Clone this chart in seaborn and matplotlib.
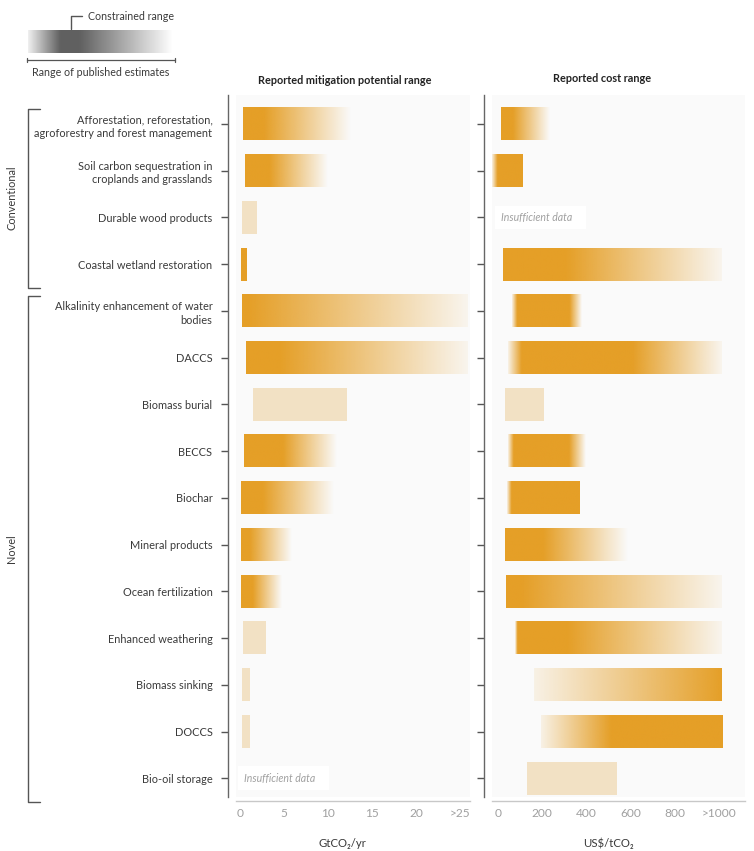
import numpy as np
import matplotlib.pyplot as plt
from matplotlib.lines import Line2D
from matplotlib.transforms import blended_transform_factory
import seaborn as sns

nan = np.nan

# ---------------- data ----------------
methods = [
    "Afforestation, reforestation,\nagroforestry and forest management",
    "Soil carbon sequestration in\ncroplands and grasslands",
    "Durable wood products",
    "Coastal wetland restoration",
    "Alkalinity enhancement of water\nbodies",
    "DACCS",
    "Biomass burial",
    "BECCS",
    "Biochar",
    "Mineral products",
    "Ocean fertilization",
    "Enhanced weathering",
    "Biomass sinking",
    "DOCCS",
    "Bio-oil storage",
]
groups = ["Conventional", "Novel"]
group_sizes = [4, 11]

# mitigation potential (GtCO2/yr): published range lo..hi, constrained range clo..chi
# nan constrained range -> only a low-confidence range is reported (pale bar)
pot_lo = [0.3, 0.6, 0.2, 0.1, 0.2, 0.65, 1.5, 0.45, 0.1, 0.1, 0.15, 0.35, 0.2, 0.2, nan]
pot_clo = [0.3, 0.6, nan, 0.1, 0.2, 0.65, nan, 0.45, 0.1, 0.1, 0.15, nan, nan, nan, nan]
pot_chi = [2.7, 3.4, nan, 0.7, 1.0, 4.5, nan, 4.9, 2.6, 1.1, 1.5, nan, nan, nan, nan]
pot_hi = [12.5, 10.0, 1.8, 0.7, 25.8, 25.8, 12.1, 11.0, 10.6, 5.8, 4.8, 2.9, 1.0, 1.0, nan]

# cost (US$/tCO2)
cost_lo = [15, -25, nan, 23, 62, 45, 32, 45, 40, 30, 35, 75, 165, 195, 130]
cost_clo = [15, 0, nan, 23, 85, 105, nan, 70, 60, 30, 35, 85, 1015, 510, nan]
cost_chi = [70, 115, nan, 310, 320, 610, nan, 320, 370, 205, 110, 315, 1015, 1015, nan]
cost_hi = [235, 115, nan, 1010, 375, 1010, 204, 395, 370, 585, 1010, 1010, 1015, 1015, 535]

pot_ticks = [0, 5, 10, 15, 20, 25]
pot_ticklabels = ["0", "5", "10", "15", "20", ">25"]
cost_ticks = [0, 200, 400, 600, 800, 1000]
cost_ticklabels = ["0", "200", "400", "600", "800", ">1000"]

# ---------------- style ----------------
sns.set_theme(style="white")
plt.rcParams["font.family"] = ["Lato", "DejaVu Sans"]

ORANGE = np.array([229, 159, 39]) / 255
PALE_RGB = np.array([234, 196, 130]) / 255
PALE = 0.45
START = 0.1
BAR_H = 0.7
PANEL_BG = "#fafafa"
TEXT = "#3a3a3a"
GREY = "#a0a0a0"
FS = 7.95

W, H = 754, 851
fig = plt.figure(figsize=(W / 100, H / 100), dpi=100)
ax_pot = fig.add_axes([236 / W, 1 - 797 / H, 234 / W, 702 / H])
ax_cost = fig.add_axes([492 / W, 1 - 797 / H, 253 / W, 702 / H])


def draw_ranges(ax, lo, clo, chi, hi, cap):
    for i in range(len(methods)):
        if np.isnan(lo[i]):
            tr = blended_transform_factory(ax.transAxes, ax.transData)
            ax.text(0.035, i, "Insufficient data   ", transform=tr, ha="left",
                    va="center", fontsize=7.6, style="italic", color=GREY,
                    bbox=dict(boxstyle="square,pad=0.6", fc="white", ec="none"),
                    zorder=3)
            continue
        x = np.linspace(lo[i], hi[i], 400)
        rgb = ORANGE
        if np.isnan(clo[i]):
            alpha = np.full_like(x, PALE)
            rgb = PALE_RGB
        else:
            alpha = np.ones_like(x)
            if clo[i] > lo[i]:
                m = x < clo[i]
                alpha[m] = START + (1 - START) * (x[m] - lo[i]) / (clo[i] - lo[i])
            if hi[i] > chi[i]:
                tail = 0.06 if hi[i] >= cap else 0.0
                m = x > chi[i]
                alpha[m] = 1 - (1 - tail) * (x[m] - chi[i]) / (hi[i] - chi[i])
        rgba = np.zeros((1, x.size, 4))
        rgba[..., :3] = rgb
        rgba[..., 3] = alpha
        ax.imshow(rgba, extent=(lo[i], hi[i], i + BAR_H / 2, i - BAR_H / 2),
                  aspect="auto", interpolation="bilinear", zorder=2)


draw_ranges(ax_pot, pot_lo, pot_clo, pot_chi, pot_hi, 25)
draw_ranges(ax_cost, cost_lo, cost_clo, cost_chi, cost_hi, 1000)

n = len(methods)
for ax, ticks, labels, xlim in [
    (ax_pot, pot_ticks, pot_ticklabels, (-0.45, 26.15)),
    (ax_cost, cost_ticks, cost_ticklabels, (-27, 1118)),
]:
    ax.set_facecolor(PANEL_BG)
    ax.set_xlim(*xlim)
    ax.set_ylim(n - 0.6, -0.62)
    ax.set_xticks(ticks)
    ax.set_xticklabels(labels)
    ax.set_yticks(range(n))
    ax.tick_params(axis="x", length=0, labelsize=8.6, labelcolor=GREY, pad=5)
    ax.tick_params(axis="y", length=5, width=1, color="#555555", left=True,
                   labelsize=FS, labelcolor=TEXT, pad=6)
    sns.despine(ax=ax, offset=dict(left=6, bottom=3))
    ax.spines["left"].set_color("#666666")
    ax.spines["left"].set_linewidth(1)
    ax.spines["bottom"].set_color("#c8c8c8")
    ax.spines["bottom"].set_linewidth(1)

ax_pot.set_yticklabels(methods, linespacing=1.3)
ax_cost.set_yticklabels([])

ax_pot.set_xlabel("GtCO\u2082/yr", fontsize=8.2, color=TEXT)
ax_pot.xaxis.set_label_coords(0.453, -0.058)
ax_cost.set_xlabel("US$/tCO\u2082", fontsize=8.2, color=TEXT)
ax_cost.xaxis.set_label_coords(0.462, -0.058)

ax_pot.text(0.466, 1.02, "Reported mitigation potential range", transform=ax_pot.transAxes,
            ha="center", va="center", fontsize=7.8, fontweight="bold", color="#222222")
ax_cost.text(0.435, 1.023, "Reported cost range", transform=ax_cost.transAxes,
             ha="center", va="center", fontsize=7.8, fontweight="bold", color="#222222")

# group brackets (x in figure fraction, y in row units)
tr = blended_transform_factory(fig.transFigure, ax_pot.transData)
start = 0
for name, size in zip(groups, group_sizes):
    top, bot = start - 0.33, start + size - 1 + 0.5
    x0, x1 = 27.5 / W, 40 / W
    ax_pot.add_line(Line2D([x1, x0, x0, x1], [top, top, bot, bot], transform=tr,
                           color="#555555", lw=1, clip_on=False))
    ax_pot.text(12 / W, (top + bot) / 2, name, transform=tr, rotation=90,
                ha="center", va="center", fontsize=FS, color=TEXT, clip_on=False)
    start += size

# legend (pixel coordinates)
leg = fig.add_axes([0, 0, 1, 1], facecolor="none")
leg.set_xlim(0, W)
leg.set_ylim(H, 0)
leg.axis("off")
gx = np.linspace(0, 1, 300)
g_alpha = np.interp(gx, [0, 0.22, 0.36, 1], [0.1, 1, 1, 0.0])
g = np.zeros((1, gx.size, 4))
g[..., :3] = 0.38
g[..., 3] = g_alpha
leg.imshow(g, extent=(28, 173, 53, 30), aspect="auto", interpolation="bilinear")
leg.set_xlim(0, W)
leg.set_ylim(H, 0)
leg.plot([70.5, 70.5, 82], [29, 16, 16], color="#555555", lw=1)
leg.text(88, 16, "Constrained range", ha="left", va="center", fontsize=7.7, color=TEXT)
leg.plot([27, 175], [60, 60], color="#555555", lw=0.9)
leg.plot([27, 27], [58, 62], color="#555555", lw=0.9)
leg.plot([175, 175], [58, 62], color="#555555", lw=0.9)
leg.text(32, 72, "Range of published estimates", ha="left", va="center",
         fontsize=7.7, color=TEXT)

fig.savefig("out.png", dpi=100)
